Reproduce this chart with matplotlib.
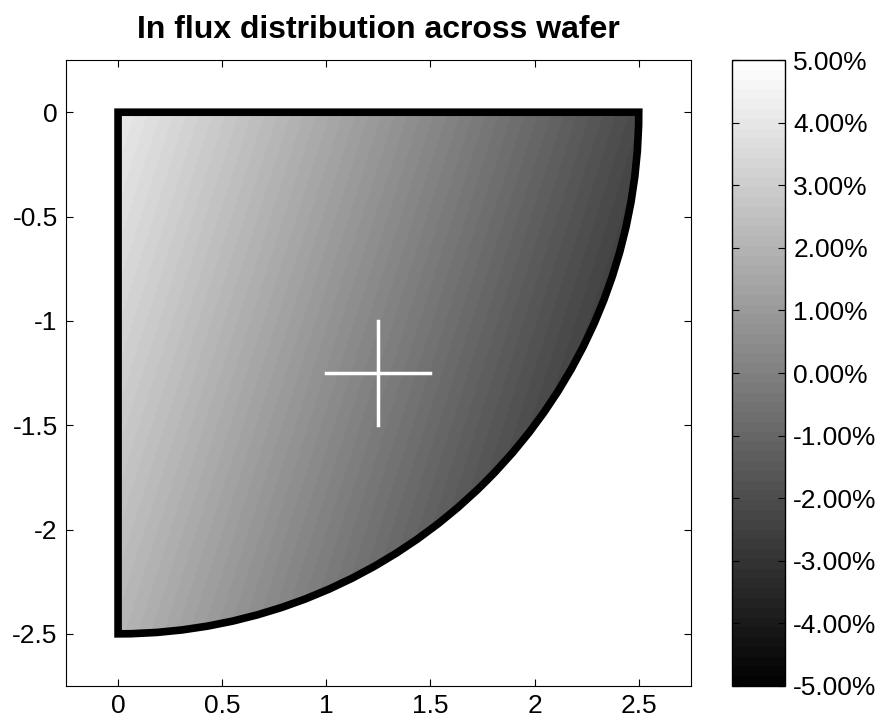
# In flux distribution across a quarter wafer
import numpy as np
import matplotlib
matplotlib.use('Agg')
import matplotlib.pyplot as plt
from matplotlib.patches import Wedge

plt.rcParams['font.family'] = ['Liberation Sans', 'DejaVu Sans']

# sample grid (wafer coords) and flux deviation (%)
x_nodes = [0.0, 0.5, 1.0, 1.5, 2.0, 2.5]
y_nodes = [0.0, -0.5, -1.0, -1.5, -2.0, -2.5]
flux = [
    [4.10, 2.85, 1.60, 0.35, -0.90, -2.15],
    [3.70, 2.45, 1.20, -0.05, -1.30, -2.55],
    [3.30, 2.05, 0.80, -0.45, -1.70, -2.95],
    [2.90, 1.65, 0.40, -0.85, -2.10, -3.35],
    [2.50, 1.25, 0.00, -1.25, -2.50, -3.75],
    [2.10, 0.85, -0.40, -1.65, -2.90, -4.15],
]
wafer_radius = 2.5
cross_center = (1.25, -1.25)
cross_half = 0.25
cbar_ticks = [-5, -4, -3, -2, -1, 0, 1, 2, 3, 4, 5]

fig = plt.figure(figsize=(8.8, 7.27), dpi=100)
ax = fig.add_axes([0.075, 0.0564, 0.710, 0.861])
cax = fig.add_axes([0.832, 0.0564, 0.060, 0.861])

X, Y = np.meshgrid(x_nodes, y_nodes)
levels = np.linspace(-5, 5, 65)
cs = ax.contourf(X, Y, np.array(flux), levels=levels, cmap='gray',
                 vmin=-5, vmax=5)

# clip the field to the quarter wafer and outline it
clip = Wedge((0, 0), wafer_radius, 270, 360, transform=ax.transData,
             facecolor='none', edgecolor='none')
ax.add_patch(clip)
cs.set_clip_path(clip)
outline = Wedge((0, 0), wafer_radius, 270, 360, facecolor='none',
                edgecolor='black', linewidth=5.5, joinstyle='miter')
ax.add_patch(outline)

# centre marker
cx, cy = cross_center
ax.plot([cx - cross_half, cx + cross_half], [cy, cy], color='white', lw=2.5)
ax.plot([cx, cx], [cy - cross_half, cy + cross_half], color='white', lw=2.5)

ax.set_xlim(-0.25, 2.75)
ax.set_ylim(-2.75, 0.25)
ax.set_xticks([0, 0.5, 1, 1.5, 2, 2.5])
ax.set_xticklabels(['0', '0.5', '1', '1.5', '2', '2.5'])
ax.set_yticks([0, -0.5, -1, -1.5, -2, -2.5])
ax.set_yticklabels(['0', '-0.5', '-1', '-1.5', '-2', '-2.5'])
ax.tick_params(direction='in', top=True, right=True, length=5,
               labelsize=19, pad=6)
ax.set_title('In flux distribution across wafer', fontsize=23,
             fontweight='bold', pad=16)

cb = fig.colorbar(cs, cax=cax)
cb.set_ticks(cbar_ticks)
cb.set_ticklabels(['%.2f%%' % t for t in cbar_ticks])
cax.tick_params(direction='in', left=True, right=True, length=5,
                labelsize=19, pad=6)
cb.outline.set_linewidth(1)

plt.savefig('out.png', dpi=100)
